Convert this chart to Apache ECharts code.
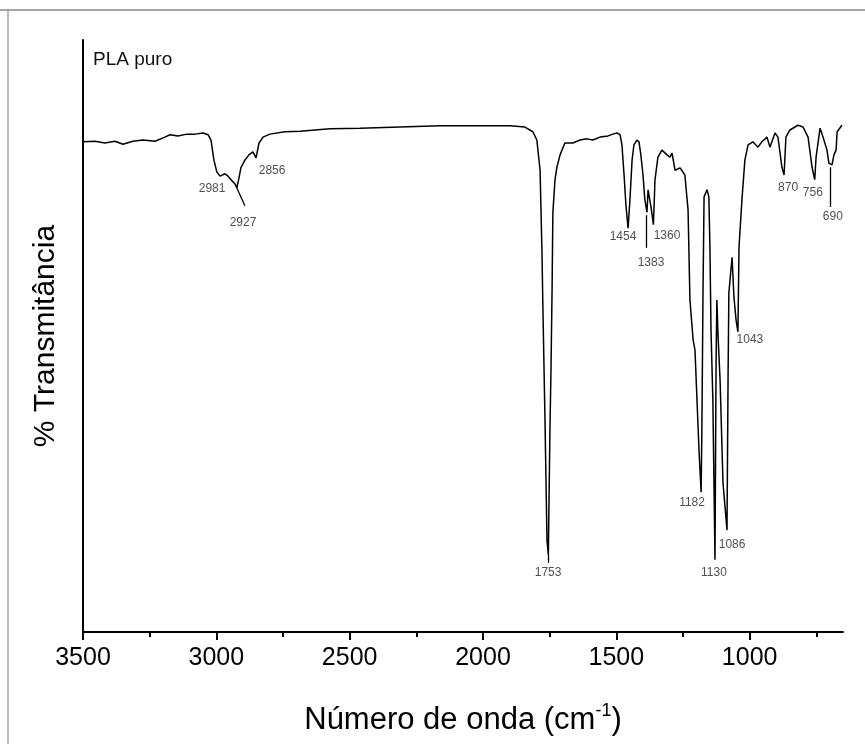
<!DOCTYPE html>
<html>
<head>
<meta charset="utf-8">
<script src="https://cdn.jsdelivr.net/npm/echarts@6/dist/echarts.min.js"></script>
<style>
  html, body { margin: 0; padding: 0; background: #fff; }
  #chart { width: 865px; height: 744px; }
</style>
</head>
<body>
<div id="chart"></div>
<script>
// FTIR spectrum, PLA puro
var wavenumbers = [3500, 3455, 3418, 3380, 3350, 3313, 3275, 3230, 3193, 3174, 3144, 3110, 3080, 3050, 3031, 3020, 3009, 2998, 2986, 2979,
  2968, 2956, 2941, 2930, 2923, 2915, 2908, 2893, 2878, 2863, 2851, 2840, 2825, 2799, 2743, 2686, 2574, 2461, 2311, 2161,
  2011, 1899, 1843, 1813, 1798, 1786, 1779, 1775, 1768, 1760, 1755, 1749, 1745, 1741, 1738, 1730, 1723, 1711, 1693, 1663,
  1636, 1610, 1588, 1561, 1531, 1513, 1498, 1486, 1479, 1471, 1464, 1456, 1449, 1441, 1434, 1423, 1415, 1408, 1400, 1393,
  1385, 1381, 1378, 1370, 1361, 1355, 1344, 1329, 1310, 1299, 1291, 1280, 1261, 1243, 1231, 1224, 1212, 1205, 1198, 1190,
  1182, 1179, 1175, 1171, 1160, 1153, 1149, 1145, 1138, 1130, 1126, 1123, 1119, 1111, 1100, 1085, 1081, 1078, 1066, 1059,
  1051, 1044, 1040, 1029, 1018, 1006, 988, 969, 954, 935, 924, 905, 894, 879, 871, 864, 849, 819, 800, 781,
  766, 756, 751, 736, 725, 710, 703, 691, 684, 676, 672, 654];
var transmittance = [82.8, 82.9, 82.6, 82.9, 82.4, 82.9, 83.1, 82.9, 83.6, 84.0, 83.8, 84.1, 84.1, 84.3, 84.0, 83.1, 79.7, 77.7, 77.0, 76.7,
  77.4, 77.0, 76.2, 75.7, 75.0, 76.7, 78.4, 79.7, 80.6, 81.1, 80.1, 82.6, 83.6, 84.1, 84.5, 84.6, 85.0, 85.1, 85.3, 85.5,
  85.5, 85.5, 85.3, 84.5, 83.1, 78.0, 64.5, 53.9, 37.0, 15.5, 13.0, 34.1, 44.3, 57.8, 70.8, 76.4, 78.5, 80.6, 82.6, 82.6,
  83.1, 83.3, 83.1, 83.6, 83.8, 84.1, 84.3, 84.0, 82.3, 77.2, 72.1, 68.2, 73.0, 79.7, 82.3, 83.1, 82.8, 80.6, 77.2, 73.0,
  70.9, 74.7, 75.0, 71.8, 68.8, 76.4, 80.2, 81.4, 80.6, 80.2, 80.9, 78.0, 78.4, 77.2, 71.3, 56.1, 49.3, 47.6, 39.7, 30.7,
  23.6, 35.3, 57.3, 73.5, 74.7, 73.5, 65.0, 51.0, 39.2, 12.2, 45.4, 56.1, 50.5, 42.6, 25.2, 17.2, 43.1, 57.3, 63.3, 56.6,
  52.7, 50.7, 65.0, 73.0, 79.7, 82.3, 82.8, 81.9, 82.8, 83.6, 81.9, 84.3, 83.6, 78.5, 77.2, 83.6, 84.8, 85.6, 85.3, 83.6,
  78.5, 76.4, 80.2, 85.1, 83.6, 81.4, 79.2, 78.9, 80.6, 81.4, 84.5, 85.6];

// peak labels: text, and where the label sits
var peakNames = ['2981', '2927', '2856', '1753', '1454', '1383', '1360', '1182', '1130', '1086', '1043', '870', '756', '690'];
var peakLabelX = [3016, 2900, 2791, 1756, 1475, 1370, 1310, 1216, 1134, 1066, 999, 856, 763, 688];
var peakLabelY = [74.8, 69.1, 78.0, 10.1, 66.7, 62.3, 66.9, 21.8, 10.1, 14.7, 49.3, 75.0, 74.2, 70.1];

// short leader lines from peak to label
var leaders = [
  [[2923, 75.0], [2893, 72.0]],
  [[1755, 13.0], [1755, 11.7]],
  [[1389, 70.4], [1389, 64.9]],
  [[699, 78.5], [699, 71.8]]
];

var xTickLabels = [1000, 1500, 2000, 2500, 3000, 3500];
var xMinorTicks = [750, 1250, 1750, 2250, 2750, 3250];

var spectrum = wavenumbers.map(function (w, i) { return [w, transmittance[i]]; });
var peakPoints = peakNames.map(function (n, i) { return { value: [peakLabelX[i], peakLabelY[i]], name: n }; });

var chart = echarts.init(document.getElementById('chart'));
var FONT = 'Liberation Sans, Arial, sans-serif';

var option = {
  backgroundColor: '#fff',
  animation: false,
  textStyle: { fontFamily: FONT },
  grid: { left: 83, right: 22, top: 40, bottom: 112 },
  xAxis: [{
    type: 'value',
    inverse: true,
    min: 650,
    max: 3500,
    name: '{a|Número de onda (cm}{s|-1}{a|)}',
    nameLocation: 'middle',
    nameGap: 70,
    nameTextStyle: {
      rich: {
        a: { fontSize: 31, color: '#000', fontFamily: FONT, lineHeight: 36 },
        s: { fontSize: 18, color: '#000', fontFamily: FONT, lineHeight: 14, verticalAlign: 'top' }
      }
    },
    splitLine: { show: false },
    axisLine: { show: true, onZero: false, lineStyle: { color: '#000', width: 2 } },
    axisTick: { show: true, customValues: xTickLabels, length: 8, lineStyle: { color: '#000', width: 2 } },
    axisLabel: {
      customValues: xTickLabels,
      formatter: function (v) { return String(v); },
      fontSize: 25,
      color: '#000',
      margin: 14,
      fontFamily: FONT
    }
  }, {
    type: 'value',
    inverse: true,
    min: 650,
    max: 3500,
    position: 'bottom',
    splitLine: { show: false },
    axisLine: { show: false },
    axisLabel: { show: false },
    axisTick: { show: true, customValues: xMinorTicks, length: 5, lineStyle: { color: '#000', width: 2 } }
  }],
  yAxis: {
    type: 'value',
    min: 0,
    max: 100,
    name: '% Transmitância',
    nameLocation: 'middle',
    nameRotate: 90,
    nameGap: 22,
    nameTextStyle: { fontSize: 30, color: '#000', fontFamily: FONT },
    splitLine: { show: false },
    axisLine: { show: true, lineStyle: { color: '#000', width: 2 } },
    axisTick: { show: false },
    axisLabel: { show: false }
  },
  graphic: [
    { type: 'line', shape: { x1: 0, y1: 10, x2: 865, y2: 10 }, style: { stroke: '#a6a6a6', lineWidth: 2 } },
    { type: 'line', shape: { x1: 8, y1: 10, x2: 8, y2: 744 }, style: { stroke: '#a6a6a6', lineWidth: 1.5 } },
    { type: 'text', left: 93, top: 50, style: { text: 'PLA puro', fontSize: 19, fill: '#111', fontFamily: FONT } }
  ],
  series: [{
    type: 'line',
    data: spectrum,
    showSymbol: false,
    symbol: 'none',
    lineStyle: { color: '#000', width: 1.5 },
    z: 3
  }, {
    type: 'scatter',
    data: peakPoints,
    symbolSize: 0,
    silent: true,
    label: {
      show: true,
      position: 'inside',
      formatter: '{b}',
      fontSize: 12,
      color: '#222',
      fontFamily: FONT
    },
    markLine: {
      silent: true,
      symbol: 'none',
      label: { show: false },
      lineStyle: { color: '#000', width: 1.3, type: 'solid' },
      data: leaders.map(function (l) { return [{ coord: l[0] }, { coord: l[1] }]; })
    }
  }]
};

chart.setOption(option);
</script>
</body>
</html>
